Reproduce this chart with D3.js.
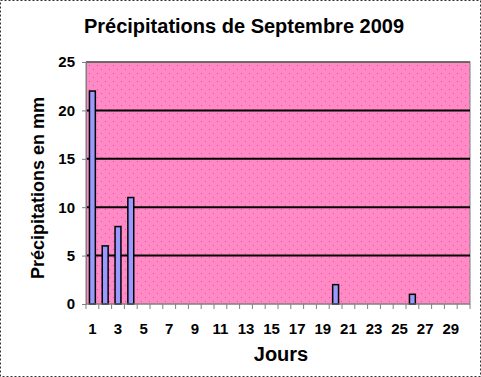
<!DOCTYPE html>
<html>
<head>
<meta charset="utf-8">
<script src="https://cdn.jsdelivr.net/npm/d3@7"></script>
<style>
  body { margin: 0; background: #fff; }
  svg { display: block; font-family: "Liberation Sans", Arial, sans-serif; }
</style>
</head>
<body>
<div id="vis"></div>
<script>
// jours du mois et pluie en mm
const days = d3.range(1, 31);
const rain = [22, 6, 8, 11, 0, 0, 0, 0, 0, 0,
              0, 0, 0, 0, 0, 0, 0, 0, 0, 2,
              0, 0, 0, 0, 0, 1, 0, 0, 0, 0];
const yTicks = [0, 5, 10, 15, 20, 25];
const xLabels = d3.range(1, 31, 2);

const width = 481, height = 377;
const margin = {left: 86, right: 11, top: 62, bottom: 73};

const svg = d3.select("#vis").append("svg")
  .attr("width", width)
  .attr("height", height);

// pattern for the dotted pink background
const defs = svg.append("defs");
const pat = defs.append("pattern")
  .attr("id", "dots")
  .attr("patternUnits", "userSpaceOnUse")
  .attr("width", 8).attr("height", 8);
pat.append("rect").attr("width", 8).attr("height", 8).attr("fill", "#ff8ac6");
pat.append("rect").attr("x", 1).attr("y", 1).attr("width", 1).attr("height", 1).attr("fill", "#e8509a");
pat.append("rect").attr("x", 5).attr("y", 5).attr("width", 1).attr("height", 1).attr("fill", "#e8509a");

// outer dashed frame
svg.append("rect")
  .attr("x", 0.5).attr("y", 0.5)
  .attr("width", width - 1).attr("height", height - 1)
  .attr("fill", "white")
  .attr("stroke", "#333")
  .attr("stroke-dasharray", "2,2");

const x = d3.scaleBand()
  .domain(days)
  .range([margin.left, width - margin.right])
  .paddingInner(0.54)
  .paddingOuter(0.27);

const y = d3.scaleLinear()
  .domain([0, 25])
  .range([height - margin.bottom, margin.top]);

const pw = width - margin.right - margin.left;
const ph = y(0) - y(25);

svg.append("rect")
  .attr("x", margin.left).attr("y", margin.top)
  .attr("width", pw).attr("height", ph)
  .attr("fill", "url(#dots)")
  .attr("stroke", "#808080")
  .attr("stroke-width", 1);
// darker top edge
svg.append("line")
  .attr("x1", margin.left).attr("x2", width - margin.right)
  .attr("y1", margin.top).attr("y2", margin.top)
  .attr("stroke", "#555").attr("stroke-width", 1.5);

// grid lines
svg.append("g")
  .selectAll("line")
  .data(yTicks.filter(d => d > 0 && d < 25))
  .join("line")
    .attr("x1", margin.left)
    .attr("x2", width - margin.right)
    .attr("y1", d => y(d))
    .attr("y2", d => y(d))
    .attr("stroke", "black")
    .attr("stroke-width", 2);

// bars
svg.append("g")
  .selectAll("rect")
  .data(days.map((d, i) => ({day: d, v: rain[i]})).filter(d => d.v > 0))
  .join("rect")
    .attr("x", d => x(d.day))
    .attr("y", d => y(d.v))
    .attr("width", x.bandwidth())
    .attr("height", d => y(0) - y(d.v))
    .attr("fill", "#9999ff")
    .attr("stroke", "black")
    .attr("stroke-width", 1.5);

// y axis
const yAxis = svg.append("g")
  .attr("transform", `translate(${margin.left},0)`)
  .call(d3.axisLeft(y).tickValues(yTicks).tickSize(4).tickPadding(7));
yAxis.select(".domain").attr("stroke", "#808080");
yAxis.selectAll("line").attr("stroke", "#808080");
yAxis.selectAll("text")
  .attr("font-size", 15)
  .attr("font-weight", "bold")
  .attr("fill", "black")
  .attr("font-family", "Liberation Sans, Arial, sans-serif");

// x axis: ticks between categories
const step = x.step();
const xAxisG = svg.append("g")
  .attr("transform", `translate(0,${y(0)})`);
xAxisG.append("line")
  .attr("x1", margin.left).attr("x2", width - margin.right)
  .attr("stroke", "#808080");
xAxisG.selectAll("line.tk")
  .data(d3.range(0, days.length + 1))
  .join("line")
    .attr("class", "tk")
    .attr("x1", i => margin.left + i * step)
    .attr("x2", i => margin.left + i * step)
    .attr("y1", 0).attr("y2", 5)
    .attr("stroke", "#808080");
xAxisG.selectAll("text")
  .data(xLabels)
  .join("text")
    .attr("x", d => x(d) + x.bandwidth() / 2)
    .attr("y", 30)
    .attr("text-anchor", "middle")
    .attr("font-size", 15)
    .attr("font-weight", "bold")
    .text(d => d);

// titles
svg.append("text")
  .attr("x", 244).attr("y", 33)
  .attr("text-anchor", "middle")
  .attr("font-size", 20)
  .attr("font-weight", "bold")
  .text("Précipitations de Septembre 2009");

svg.append("text")
  .attr("x", 281).attr("y", 361)
  .attr("text-anchor", "middle")
  .attr("font-size", 20)
  .attr("font-weight", "bold")
  .text("Jours");

svg.append("text")
  .attr("transform", "translate(44,188) rotate(-90)")
  .attr("text-anchor", "middle")
  .attr("font-size", 18)
  .attr("font-weight", "bold")
  .text("Précipitations en mm");
</script>
</body>
</html>
